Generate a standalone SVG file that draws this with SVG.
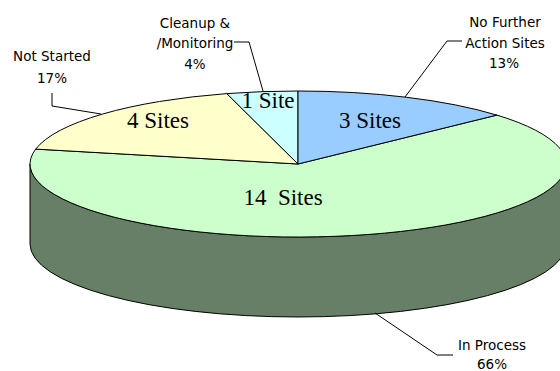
<svg xmlns="http://www.w3.org/2000/svg" width="560" height="371" viewBox="0 0 560 371">
  <style>
    .edge { stroke: #000; stroke-width: 1; stroke-linejoin: round; }
    .lead { fill: none; stroke: #000; stroke-width: 1; }
    .cat { font-family: "DejaVu Sans", Verdana, sans-serif; font-size: 13.5px; fill: #000; text-anchor: middle; }
    .cnt { font-family: "Liberation Serif", "Times New Roman", serif; font-size: 23px; fill: #000; text-anchor: middle; }
  </style>
  <rect width="560" height="371" fill="#fff"/>

  <!-- pie side wall (front half of the cylinder) -->
  <g id="side">
    <path class="edge" fill="#667f66" d="M30,164 A268,73 0 0,0 566,164 L566,244 A268,73 0 0,1 30,244 Z"/>
  </g>

  <!-- top face slices, centre (298,164) -->
  <g id="slice-in-process">
    <path class="edge" fill="#ccffcc" d="M298,164 L496.9,115.1 A268,73 0 1,1 35.7,149.1 Z"/>
    <text class="cnt" x="283" y="205">14&#160; Sites</text>
  </g>
  <g id="slice-not-started">
    <path class="edge" fill="#ffffcc" d="M298,164 L35.7,149.1 A268,73 0 0,1 226.8,93.6 Z"/>
    <text class="cnt" x="158" y="128">4 Sites</text>
  </g>
  <g id="slice-cleanup">
    <path class="edge" fill="#ccffff" d="M298,164 L226.8,93.6 A268,73 0 0,1 298,91 Z"/>
    <text class="cnt" x="268" y="108">1 Site</text>
  </g>
  <g id="slice-no-further">
    <path class="edge" fill="#99ccff" d="M298,164 L298,91 A268,73 0 0,1 496.9,115.1 Z"/>
    <text class="cnt" x="370" y="128">3 Sites</text>
  </g>

  <!-- leader lines -->
  <g id="connectors">
    <polyline class="lead" points="234,42 249,42 263,91"/>
    <polyline class="lead" points="52,93 52,106 101,114"/>
    <polyline class="lead" points="462,41 447,41 405,97"/>
    <polyline class="lead" points="453,355 437,355 375,313"/>
  </g>

  <!-- category labels -->
  <g id="label-cleanup">
    <text class="cat" x="195" y="28">Cleanup &amp;</text>
    <text class="cat" x="195" y="48">/Monitoring</text>
    <text class="cat" x="195" y="69">4%</text>
  </g>
  <g id="label-not-started">
    <text class="cat" x="52" y="61">Not Started</text>
    <text class="cat" x="52" y="83">17%</text>
  </g>
  <g id="label-no-further">
    <text class="cat" x="505" y="27">No Further</text>
    <text class="cat" x="505" y="48">Action Sites</text>
    <text class="cat" x="504" y="68">13%</text>
  </g>
  <g id="label-in-process">
    <text class="cat" x="492" y="350">In Process</text>
    <text class="cat" x="492" y="369">66%</text>
  </g>
</svg>
